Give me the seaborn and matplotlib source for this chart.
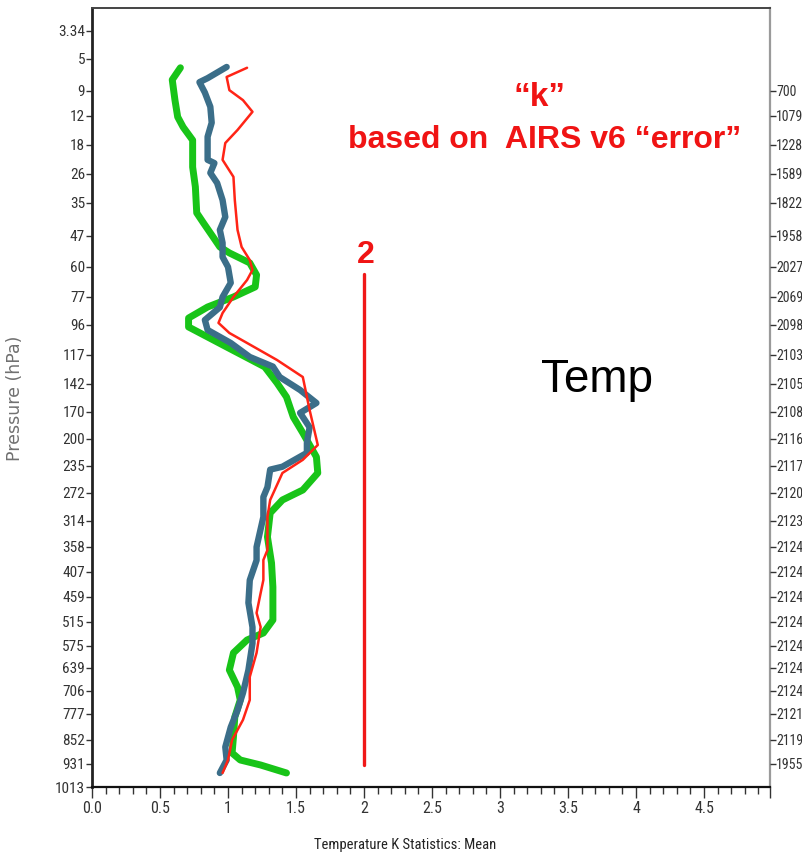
import numpy as np
import pandas as pd
import matplotlib
matplotlib.use("Agg")
import matplotlib.pyplot as plt
import seaborn as sns
from matplotlib.ticker import FixedLocator, NullLocator

# ---------------- data ----------------
P_TICKS = [3.34, 5, 9, 12, 18, 26, 35, 47, 60, 77, 96, 117, 142, 170, 200, 235,
           272, 314, 358, 407, 459, 515, 575, 639, 706, 777, 852, 931, 1013]
P_LABELS = ["3.34", "5", "9", "12", "18", "26", "35", "47", "60", "77", "96", "117",
            "142", "170", "200", "235", "272", "314", "358", "407", "459", "515",
            "575", "639", "706", "777", "852", "931", "1013"]
R_TICKS = [9, 12, 18, 26, 35, 47, 60, 77, 96, 117, 142, 170, 200, 235, 272, 314,
           358, 407, 459, 515, 575, 639, 706, 777, 852, 931]
R_LABELS = ["700", "1079", "1228", "1589", "1822", "1958", "2027", "2069", "2098",
            "2103", "2105", "2108", "2116", "2117", "2120", "2123", "2124", "2124",
            "2124", "2124", "2124", "2124", "2124", "2121", "2119", "1955"]
X_TICKS = [0, 0.5, 1, 1.5, 2, 2.5, 3, 3.5, 4, 4.5]
X_LABELS = ["0.0", "0.5", "1", "1.5", "2", "2.5", "3", "3.5", "4", "4.5"]

blue_val = [0.99, 0.85, 0.79, 0.83, 0.87, 0.88, 0.85, 0.85, 0.85, 0.90, 0.87, 0.92,
            0.96, 0.98, 0.94, 0.96, 0.96, 1.00, 1.02, 0.96, 0.94, 0.83, 0.85, 1.02,
            1.16, 1.33, 1.38, 1.53, 1.65, 1.53, 1.60, 1.58, 1.58, 1.40, 1.31, 1.29,
            1.26, 1.26, 1.21, 1.21, 1.16, 1.15, 1.18, 1.18, 1.15, 1.11, 1.07, 1.02,
            0.98, 0.99, 0.94]
blue_p = [6.0, 7.4, 7.9, 9.2, 10.9, 13.4, 16.3, 19.4, 22.1, 23.0, 25.7, 28.8,
          34.1, 40.1, 44.8, 49.9, 55.8, 60, 69, 77, 84, 92.6, 99.5, 108.6,
          118.7, 127, 136, 148, 161, 171, 187, 205, 218, 236, 240, 264,
          278, 308, 358, 384, 424, 472, 528, 568, 645, 712, 765, 815,
          875, 918, 963]

red_val = [1.14, 0.99, 1.01, 1.11, 1.18, 1.07, 0.98, 0.96, 1.04, 1.05, 1.07, 1.10,
           1.16, 1.18, 1.14, 1.04, 0.96, 0.93, 1.01, 1.14, 1.36, 1.55, 1.60, 1.66,
           1.55, 1.40, 1.31, 1.29, 1.29, 1.26, 1.26, 1.24, 1.21, 1.24, 1.21, 1.16,
           1.16, 1.11, 1.03, 1.00, 0.96]
red_p = [6.1, 7.25, 8.9, 10.1, 11.5, 14.9, 17.6, 22.1, 26.9, 34.1, 44.8, 51.6,
         57.1, 61.7, 67.4, 77, 87.9, 94.6, 101.6, 108.6, 121.3, 136, 168, 207.8,
         227, 244.6, 282.5, 308, 364, 383.5, 423.6, 450.7, 494.8, 527.5, 595, 665,
         733.8, 794, 852, 917.8, 963]

green_val = [0.65, 0.59, 0.61, 0.63, 0.67, 0.74, 0.74, 0.76, 0.77, 0.82, 0.89, 0.94,
             1.01, 1.16, 1.21, 1.20, 1.04, 0.85, 0.71, 0.71, 0.85, 0.99, 1.13, 1.27,
             1.36, 1.43, 1.48, 1.55, 1.65, 1.66, 1.55, 1.40, 1.31, 1.29, 1.32, 1.33,
             1.33, 1.26, 1.14, 1.04, 1.01, 1.07, 1.09, 1.05, 1.04, 1.03, 1.09, 1.24,
             1.43]
green_p = [6.1, 7.6, 10.1, 12.2, 14.3, 17.0, 24.1, 30.0, 38.6, 42.3, 47.4, 51.6,
           54.1, 58.3, 64.5, 71.3, 77, 83.8, 91.3, 97.4, 104.4, 111.4, 118.7, 127.3,
           141.1, 155, 175.6, 193.3, 223.3, 244.6, 267.9, 282.5, 302, 341, 389.4, 438.2,
           510.5, 542.5, 560, 595, 644.8, 694.3, 733.8, 785.7, 843.3, 894.8, 917.8, 934.6,
           963]

REF_X = 2.0
REF_P = [64, 934]

# ---------------- pressure axis scale (level spacing of the original) ----------------
P_ANCH = np.array([0.0] + P_TICKS + [1100.0])
POS_ANCH = np.array([-25.4, 31, 59, 91, 116, 145, 174, 203, 236, 267, 297, 325, 355,
                     384, 412, 439, 466, 493, 521, 547, 572, 597, 622, 646, 668, 691,
                     714, 740, 764, 787, 811.0])


def fwd(p):
    return np.interp(p, P_ANCH, POS_ANCH)


def inv(s):
    return np.interp(s, POS_ANCH, P_ANCH)


sns.set_theme(style="ticks")
plt.rcParams["font.family"] = ["Liberation Sans", "DejaVu Sans"]
NARROW = ["Roboto Condensed", "Liberation Sans Narrow", "Liberation Sans", "DejaVu Sans"]

W, H = 803, 855
fig = plt.figure(figsize=(W / 100, H / 100), dpi=100)
ax = fig.add_axes([92 / W, 1 - 787 / H, (770 - 92) / W, (787 - 8) / H])

ax.set_yscale("function", functions=(fwd, inv))

sns.lineplot(x=green_val, y=green_p, sort=False, estimator=None, color="#18c418",
             linewidth=5.0, ax=ax)
sns.lineplot(x=blue_val, y=blue_p, sort=False, estimator=None, color="#3b6e89",
             linewidth=4.6, ax=ax)
sns.lineplot(x=red_val, y=red_p, sort=False, estimator=None, color="#ff2416",
             linewidth=1.8, ax=ax)
ax.plot([REF_X, REF_X], REF_P, color="#f01818", linewidth=2.4)

ax.set_xlim(0, 4.985)
ax.set_ylim(1013, 1.98)

ax.yaxis.set_major_locator(FixedLocator(P_TICKS))
ax.set_yticklabels(P_LABELS)
ax.yaxis.set_minor_locator(NullLocator())
ax.set_xticks(X_TICKS + [4.985])
ax.set_xticklabels(X_LABELS + [""])
ax.xaxis.set_minor_locator(FixedLocator(np.arange(0.1, 4.95, 0.1)))

ax.tick_params(axis="y", which="major", direction="out", length=4, width=1,
               pad=1, colors="#333333", labelsize=11)
ax.tick_params(axis="x", which="major", direction="out", length=8, width=1,
               pad=2, colors="#333333", labelsize=11.5)
ax.tick_params(axis="x", which="minor", direction="out", length=5, width=1,
               color="#333333")
for lab in ax.get_xticklabels() + ax.get_yticklabels():
    lab.set_family(NARROW)
ax.set_xlabel("")
ax.set_ylabel("")

ax.spines["left"].set_linestyle((0, (1, 1)))
ax.spines["left"].set_linewidth(2.0)
ax.spines["left"].set_color("#222222")
ax.spines["bottom"].set_color("#111111")
ax.spines["bottom"].set_linewidth(1.6)
ax.spines["top"].set_color("#444444")
ax.spines["top"].set_linewidth(1.4)
ax.spines["right"].set_color("#9a9a9a")
ax.spines["right"].set_linewidth(1.6)

tw = ax.twinx()
tw.set_yscale("function", functions=(fwd, inv))
tw.set_ylim(1013, 1.98)
tw.yaxis.set_major_locator(FixedLocator(R_TICKS))
tw.set_yticklabels(R_LABELS)
tw.yaxis.set_minor_locator(NullLocator())
tw.tick_params(axis="y", direction="out", length=4, width=1, pad=0.5,
               colors="#333333", labelsize=10)
for lab in tw.get_yticklabels():
    lab.set_family(NARROW)
for s in tw.spines.values():
    s.set_visible(False)

# axis titles
fig.text(405 / W, 1 - 845 / H, "Temperature K Statistics: Mean", ha="center",
         va="center", fontsize=10.5, color="#222222", family=NARROW)
fig.text(15 / W, 1 - 398 / H, "Pressure (hPa)", rotation=90, ha="center",
         va="center", fontsize=12.5, color="#707070", family=["DejaVu Sans"])

# annotations
RED = "#f01414"
fig.text(540 / W, 1 - 97 / H, "\u201ck\u201d", ha="center", va="center",
         fontsize=24, fontweight="bold", color=RED)
fig.text(545 / W, 1 - 140 / H, "based on  AIRS v6 \u201cerror\u201d", ha="center",
         va="center", fontsize=23, fontweight="bold", color=RED)
fig.text(366 / W, 1 - 255 / H, "2", ha="center", va="center", fontsize=23,
         fontweight="bold", color=RED)
fig.text(597 / W, 1 - 380 / H, "Temp", ha="center", va="center", fontsize=33,
         color="black")

fig.savefig("out.png", dpi=100)
